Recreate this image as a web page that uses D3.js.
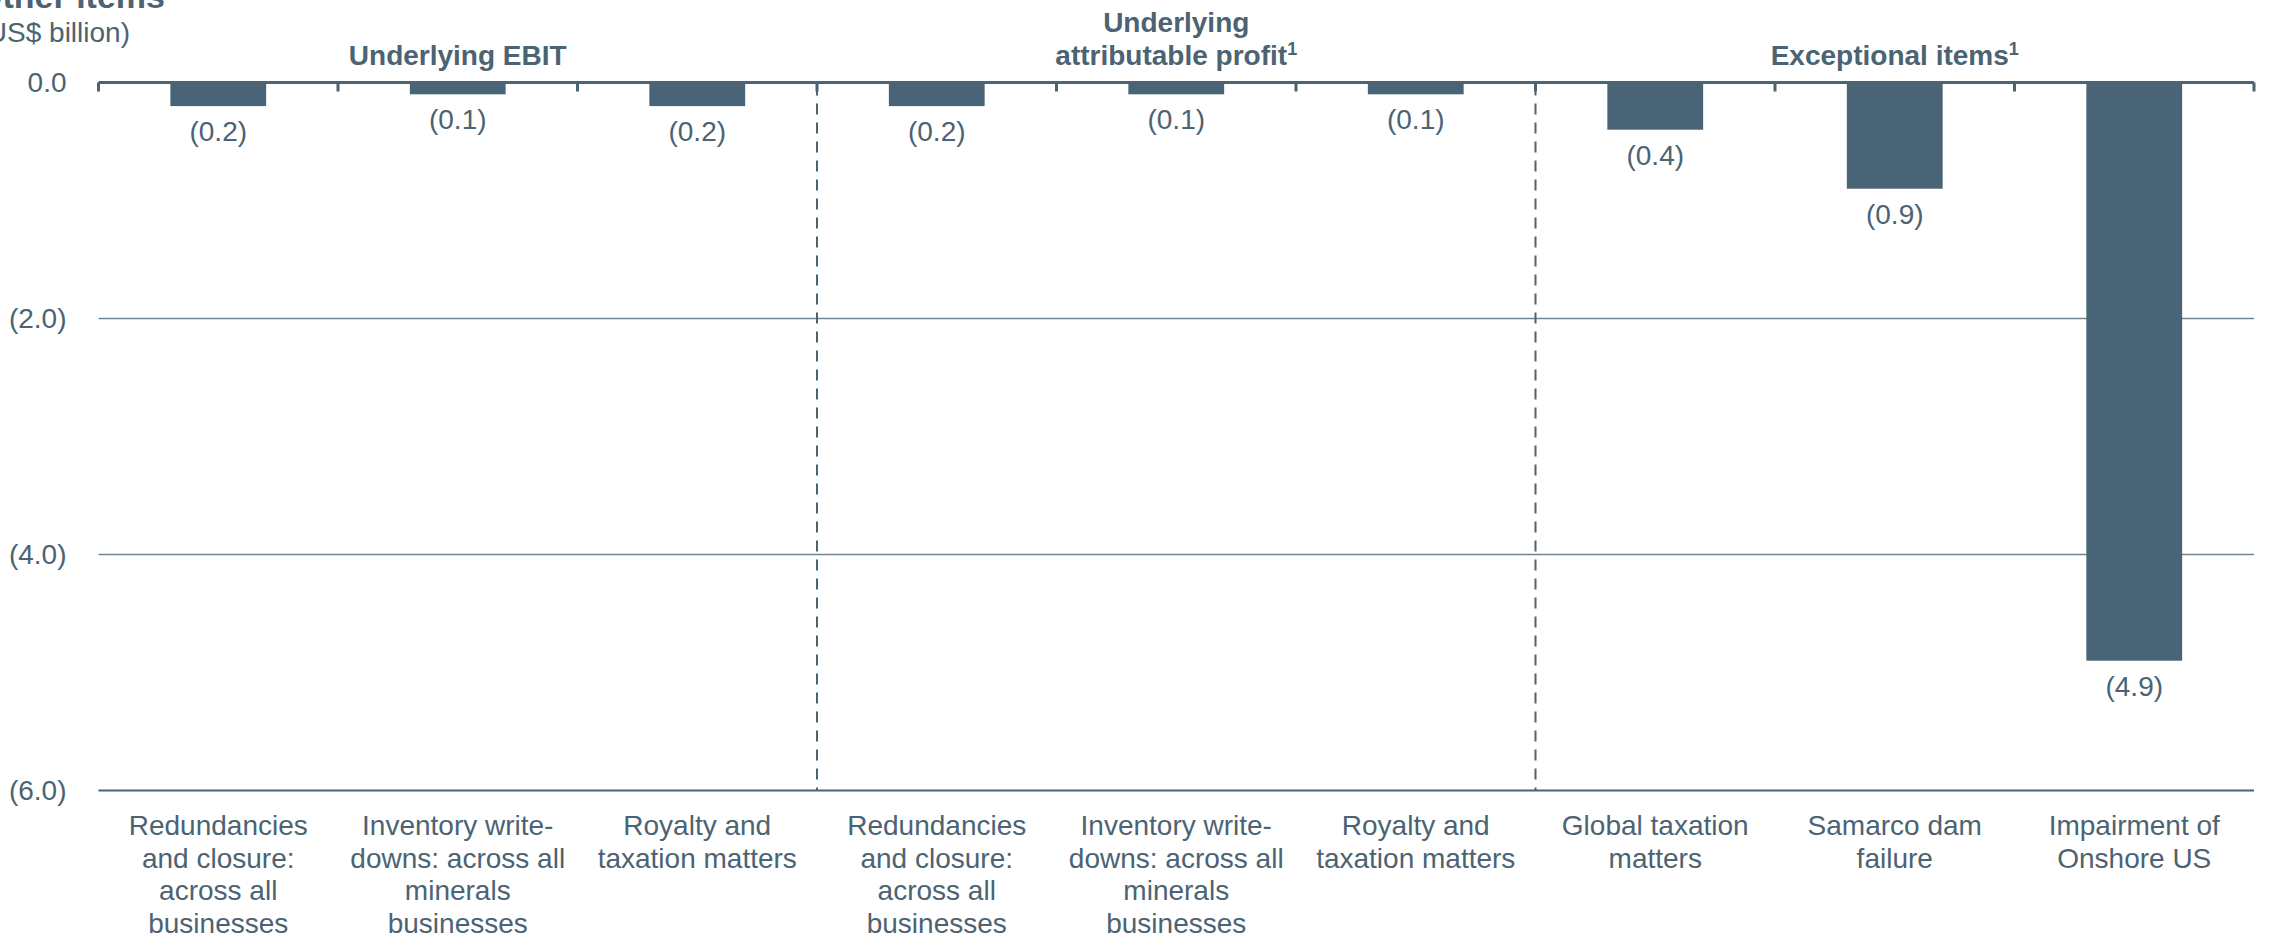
<!DOCTYPE html>
<html>
<head>
<meta charset="utf-8">
<script src="https://cdn.jsdelivr.net/npm/d3@7"></script>
<style>
  html, body { margin: 0; padding: 0; background: #ffffff; }
  svg { display: block; font-family: "Liberation Sans", Arial, sans-serif; }
</style>
</head>
<body>
<svg id="chart" width="2269" height="940"></svg>
<script>
// Category labels (one entry per bar, split into display lines)
const categories = [
  ["Redundancies", "and closure:", "across all", "businesses"],
  ["Inventory write-", "downs: across all", "minerals", "businesses"],
  ["Royalty and", "taxation matters"],
  ["Redundancies", "and closure:", "across all", "businesses"],
  ["Inventory write-", "downs: across all", "minerals", "businesses"],
  ["Royalty and", "taxation matters"],
  ["Global taxation", "matters"],
  ["Samarco dam", "failure"],
  ["Impairment of", "Onshore US"]
];

// Values in US$ billion
const values = [-0.2, -0.1, -0.2, -0.2, -0.1, -0.1, -0.4, -0.9, -4.9];

// Group headers across the top
const groupLabels = [["Underlying EBIT"], ["Underlying", "attributable profit"], ["Exceptional items"]];
const groupFootnotes = [false, true, true];
const groupSizes = [3, 3, 3];

// Y axis ticks
const yTicks = [0, -2, -4, -6];
const yTickLabels = ["0.0", "(2.0)", "(4.0)", "(6.0)"];

const titleText = "Other items";
const unitText = "(US$ billion)";

const ink = "#4b6373";
const barColor = "#486476";
const gridColor = "#6f8593";

const svg = d3.select("#chart");

const plotLeft = 98.5, plotRight = 2254;
const yTop = 82.5, yBottom = 790.5;

const x = d3.scaleBand()
  .domain(d3.range(values.length))
  .range([plotLeft, plotRight])
  .paddingInner(0.6)
  .paddingOuter(0.3);

const step = x.step();
const slotStart = i => plotLeft + i * step;

const y = d3.scaleLinear().domain([-6, 0]).range([yBottom, yTop]);

// Title and unit (the page clips their left side)
svg.append("text")
  .attr("x", 165).attr("y", 8)
  .attr("text-anchor", "end")
  .attr("font-size", 34).attr("font-weight", "bold")
  .attr("fill", ink)
  .text(titleText);

svg.append("text")
  .attr("x", 130).attr("y", 42)
  .attr("text-anchor", "end")
  .attr("font-size", 28)
  .attr("fill", ink)
  .text(unitText);

// Horizontal gridlines below zero
const yAxis = d3.axisLeft(y)
  .tickValues(yTicks)
  .tickSize(0)
  .tickPadding(32)
  .tickFormat((d, i) => yTickLabels[i]);

const yG = svg.append("g")
  .attr("transform", `translate(${plotLeft},0)`)
  .call(yAxis);
yG.select(".domain").remove();
yG.selectAll(".tick text")
  .attr("font-size", 28)
  .attr("font-family", "\"Liberation Sans\", Arial, sans-serif")
  .attr("fill", ink);

svg.append("g")
  .selectAll("line")
  .data(yTicks.filter(d => d !== 0))
  .join("line")
  .attr("x1", plotLeft).attr("x2", plotRight)
  .attr("y1", d => y(d)).attr("y2", d => y(d))
  .attr("stroke", d => d === -6 ? ink : gridColor)
  .attr("stroke-width", d => d === -6 ? 2 : 1.5);

// Dashed separators between groups
const boundaries = d3.cumsum(groupSizes).slice(0, -1);
svg.append("g")
  .selectAll("line")
  .data(boundaries)
  .join("line")
  .attr("x1", d => slotStart(d)).attr("x2", d => slotStart(d))
  .attr("y1", y(0) + 2).attr("y2", y(-6))
  .attr("stroke", ink)
  .attr("stroke-width", 2)
  .attr("stroke-dasharray", "11,8");

// Bars
svg.append("g")
  .selectAll("rect")
  .data(values)
  .join("rect")
  .attr("x", (d, i) => x(i))
  .attr("width", x.bandwidth())
  .attr("y", d => y(Math.max(0, d)))
  .attr("height", d => Math.abs(y(d) - y(0)))
  .attr("fill", barColor);

// Value labels under each bar
svg.append("g")
  .selectAll("text")
  .data(values)
  .join("text")
  .attr("x", (d, i) => x(i) + x.bandwidth() / 2)
  .attr("y", d => y(d) + 35)
  .attr("text-anchor", "middle")
  .attr("font-size", 28)
  .attr("fill", ink)
  .text(d => d < 0 ? `(${Math.abs(d).toFixed(1)})` : d.toFixed(1));

// Zero axis with slot ticks
svg.append("line")
  .attr("x1", plotLeft).attr("x2", plotRight)
  .attr("y1", y(0)).attr("y2", y(0))
  .attr("stroke", ink).attr("stroke-width", 3);

svg.append("g")
  .selectAll("line")
  .data(d3.range(values.length + 1))
  .join("line")
  .attr("x1", d => slotStart(d)).attr("x2", d => slotStart(d))
  .attr("y1", y(0)).attr("y2", y(0) + 9)
  .attr("stroke", ink).attr("stroke-width", 3);

// Category labels
const catG = svg.append("g")
  .selectAll("text")
  .data(categories)
  .join("text")
  .attr("text-anchor", "middle")
  .attr("font-size", 28)
  .attr("fill", ink);
catG.each(function(lines, i) {
  const t = d3.select(this);
  lines.forEach((line, j) => {
    t.append("tspan")
      .attr("x", x(i) + x.bandwidth() / 2)
      .attr("y", 835 + j * 32.7)
      .text(line);
  });
});

// Group headers
const groupStarts = [0, ...boundaries];
groupLabels.forEach((lines, g) => {
  const cx = (slotStart(groupStarts[g]) + slotStart(groupStarts[g] + groupSizes[g])) / 2;
  const t = svg.append("text")
    .attr("text-anchor", "middle")
    .attr("font-size", 28)
    .attr("font-weight", "bold")
    .attr("fill", ink);
  const n = lines.length;
  lines.forEach((line, j) => {
    const ts = t.append("tspan")
      .attr("x", cx)
      .attr("y", 65 - (n - 1 - j) * 33)
      .text(line);
    if (j === n - 1 && groupFootnotes[g]) {
      t.append("tspan")
        .attr("font-size", 18)
        .attr("dy", -10)
        .text("1");
    }
  });
});
</script>
</body>
</html>
